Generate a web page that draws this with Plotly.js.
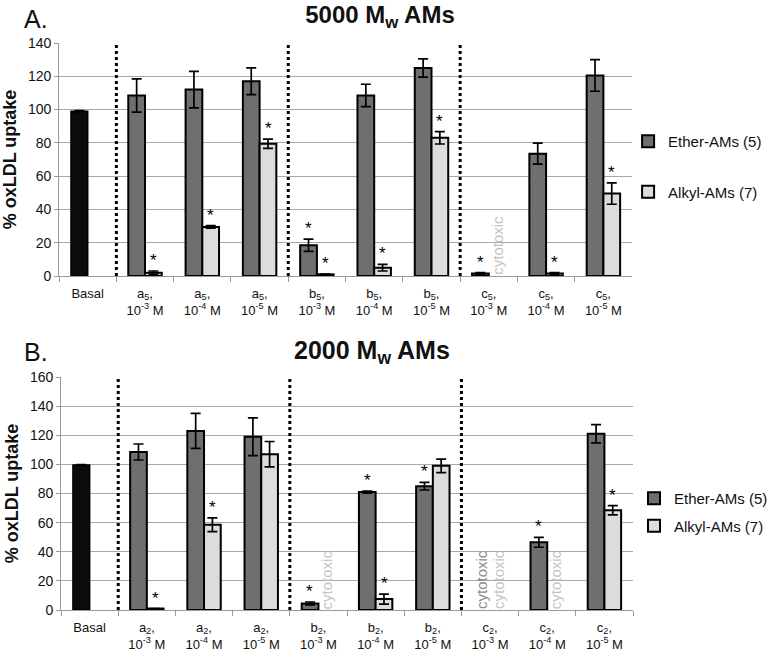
<!DOCTYPE html>
<html>
<head>
<meta charset="utf-8">
<script src="https://cdn.plot.ly/plotly-3.0.1.min.js"></script>
<style>html,body{margin:0;padding:0;background:#fff;}#chart{width:773px;height:656px;}</style>
</head>
<body>
<div id="chart"></div>
<script>
// ---------- Panel A: 5000 Mw AMs ----------
const categoriesA = ['Basal',
  'a<sub>5</sub>,<br>10<sup>-3</sup> M','a<sub>5</sub>,<br>10<sup>-4</sup> M','a<sub>5</sub>,<br>10<sup>-5</sup> M',
  'b<sub>5</sub>,<br>10<sup>-3</sup> M','b<sub>5</sub>,<br>10<sup>-4</sup> M','b<sub>5</sub>,<br>10<sup>-5</sup> M',
  'c<sub>5</sub>,<br>10<sup>-3</sup> M','c<sub>5</sub>,<br>10<sup>-4</sup> M','c<sub>5</sub>,<br>10<sup>-5</sup> M'];
const basalA = [99];
const basalErrA = [0.4];
const etherA = [null,108.5,112,117,18.5,108.5,125,1.5,73.5,120.5];
const etherErrA = [0,10,11,8,3.7,6.7,5.5,0.5,6.3,9.5];
const alkylA = [null,2,29.5,79.5,1,5,83,null,1.5,49.5];
const alkylErrA = [0,1,0.8,2.8,0.2,2,3.7,0,0.5,6.4];
const etherSigA = [0,0,0,0,1,0,0,1,0,0];
const alkylSigA = [0,1,1,1,1,1,1,0,1,1];
const etherCytoA = [0,0,0,0,0,0,0,0,0,0];
const alkylCytoA = [0,0,0,0,0,0,0,1,0,0];

// ---------- Panel B: 2000 Mw AMs ----------
const categoriesB = ['Basal',
  'a<sub>2</sub>,<br>10<sup>-3</sup> M','a<sub>2</sub>,<br>10<sup>-4</sup> M','a<sub>2</sub>,<br>10<sup>-5</sup> M',
  'b<sub>2</sub>,<br>10<sup>-3</sup> M','b<sub>2</sub>,<br>10<sup>-4</sup> M','b<sub>2</sub>,<br>10<sup>-5</sup> M',
  'c<sub>2</sub>,<br>10<sup>-3</sup> M','c<sub>2</sub>,<br>10<sup>-4</sup> M','c<sub>2</sub>,<br>10<sup>-5</sup> M'];
const basalB = [99.5];
const basalErrB = [0.4];
const etherB = [null,108.5,123,119,4.5,81,85,null,46.5,121];
const etherErrB = [0,5.5,12,13,1,0.7,2.6,0,3.4,6.3];
const alkylB = [null,1,58.5,107,null,7.5,99,null,null,68.5];
const alkylErrB = [0,0,4.7,8.7,0,3.4,4.6,0,0,3.2];
const etherSigB = [0,0,0,0,1,1,1,0,1,0];
const alkylSigB = [0,1,1,0,0,1,0,0,0,1];
const etherCytoB = [0,0,0,0,0,0,0,1,0,0];
const alkylCytoB = [0,0,0,0,1,0,0,1,1,0];

const seriesNames = ['Ether-AMs (5)','Alkyl-AMs (7)'];
const groupDividers = [0.5,3.5,6.5];

const FONT = 'Liberation Sans, Arial, sans-serif';
const C_BASAL = '#0b0b0b', C_ETHER = '#6f6f6f', C_ALKYL = '#dcdcdc';
const W = 773, H = 656;
const px = v => v / W;
const py = v => 1 - v / H;

function errObj(arr){
  return {type:'data', array:arr, visible:true, color:'#000', thickness:1.7, width:5};
}

function panelTraces(cats, basal, basalErr, ether, etherErr, alkyl, alkylErr, xa, ya, legend){
  return [
    {type:'bar', name:'Basal', x:[cats[0]], y:basal, xaxis:xa, yaxis:ya, offsetgroup:'e',
     marker:{color:C_BASAL, line:{color:'#000', width:1.5}}, error_y:errObj(basalErr),
     showlegend:false, legend:legend},
    {type:'bar', name:seriesNames[0], x:cats, y:ether, xaxis:xa, yaxis:ya, offsetgroup:'e',
     marker:{color:C_ETHER, line:{color:'#000', width:2}}, error_y:errObj(etherErr),
     legend:legend, legendgroup:'e'+legend},
    {type:'bar', name:seriesNames[1], x:cats, y:alkyl, xaxis:xa, yaxis:ya, offsetgroup:'a',
     marker:{color:C_ALKYL, line:{color:'#000', width:2}}, error_y:errObj(alkylErr),
     legend:legend, legendgroup:'a'+legend}
  ];
}

const data = [].concat(
  panelTraces(categoriesA, basalA, basalErrA, etherA, etherErrA, alkylA, alkylErrA, 'x', 'y', 'legend'),
  panelTraces(categoriesB, basalB, basalErrB, etherB, etherErrB, alkylB, alkylErrB, 'x2', 'y2', 'legend2')
);

const annotations = [];
const SHIFT = 8.5;
function addMarks(cats, vals, errs, sig, cyto, xr, yr, dx, cytoColor){
  cats.forEach((c,i)=>{
    if (sig[i]) {
      annotations.push({x:c, y:(vals[i]||0)+(errs[i]||0), xref:xr, yref:yr, xshift:dx,
        text:'*', showarrow:false, yanchor:'bottom', borderpad:0,
        font:{family:FONT, size:17, color:'#000'}});
    }
    if (cyto[i]) {
      annotations.push({x:c, y:0, xref:xr, yref:yr, xshift:dx, text:'cytotoxic', textangle:-90,
        showarrow:false, yanchor:'bottom', xanchor:'center', borderpad:0,
        font:{family:FONT, size:15, color:cytoColor}});
    }
  });
}
addMarks(categoriesA, etherA, etherErrA, etherSigA, etherCytoA, 'x', 'y', -SHIFT, '#8a8a8a');
addMarks(categoriesA, alkylA, alkylErrA, alkylSigA, alkylCytoA, 'x', 'y', SHIFT, '#c4c4c4');
addMarks(categoriesB, etherB, etherErrB, etherSigB, etherCytoB, 'x2', 'y2', -SHIFT, '#8a8a8a');
addMarks(categoriesB, alkylB, alkylErrB, alkylSigB, alkylCytoB, 'x2', 'y2', SHIFT, '#c4c4c4');

annotations.push({text:'A.', x:px(22), y:py(19), xref:'paper', yref:'paper', xanchor:'left', yanchor:'middle',
  showarrow:false, font:{family:FONT, size:25, color:'#111'}});
annotations.push({text:'B.', x:px(22), y:py(352), xref:'paper', yref:'paper', xanchor:'left', yanchor:'middle',
  showarrow:false, font:{family:FONT, size:25, color:'#111'}});
annotations.push({text:'<b>2000 M<sub>w</sub> AMs</b>', x:px(378), y:py(352), xref:'paper', yref:'paper',
  xanchor:'center', yanchor:'middle', showarrow:false, font:{family:FONT, size:25, color:'#111'}});

const shapes = [];
groupDividers.forEach(d=>{
  shapes.push({type:'line', xref:'x', yref:'y', x0:d, x1:d, y0:0, y1:140, line:{color:'#000', width:3, dash:'dot'}});
  shapes.push({type:'line', xref:'x2', yref:'y2', x0:d, x1:d, y0:0, y1:160, line:{color:'#000', width:3, dash:'dot'}});
});

const xCommon = {type:'category', showgrid:false, showline:true, linecolor:'#9a9a9a', linewidth:1,
  ticks:'outside', tickson:'boundaries', ticklen:5, tickcolor:'#9a9a9a', ticklabelstandoff:5,
  tickfont:{family:FONT, size:13, color:'#111'}, fixedrange:true};
const yCommon = {showgrid:true, gridcolor:'#a8a8a8', gridwidth:1, showline:true, linecolor:'#9a9a9a',
  ticks:'outside', ticklen:4, tickcolor:'#9a9a9a', dtick:20, zeroline:false,
  tickfont:{family:FONT, size:14, color:'#111'},
  title:{text:'<b>% oxLDL uptake</b>', font:{family:FONT, size:18, color:'#111'}, standoff:6}};

const layout = {
  width:W, height:H, margin:{l:0, r:0, t:0, b:0},
  paper_bgcolor:'#fff', plot_bgcolor:'#fff',
  barmode:'group', bargap:0.416, bargroupgap:0,
  font:{family:FONT, color:'#111'},
  title:{text:'<b>5000 M<sub>w</sub> AMs</b>', x:px(380), xanchor:'center', y:py(15), yanchor:'middle',
    font:{family:FONT, size:24, color:'#111'}},
  xaxis: Object.assign({}, xCommon, {domain:[px(60), px(642)], anchor:'y', categoryarray:categoriesA, categoryorder:'array'}),
  yaxis: Object.assign({}, yCommon, {domain:[py(276), py(43)], anchor:'x', range:[0,140]}),
  xaxis2: Object.assign({}, xCommon, {domain:[px(62), px(643)], anchor:'y2', categoryarray:categoriesB, categoryorder:'array'}),
  yaxis2: Object.assign({}, yCommon, {domain:[py(610), py(377)], anchor:'x2', range:[0,160]}),
  legend:{x:px(638), xanchor:'left', y:py(125), yanchor:'top', traceorder:'grouped', tracegroupgap:28,
    font:{family:FONT, size:15, color:'#111'}, bgcolor:'rgba(0,0,0,0)'},
  legend2:{x:px(644), xanchor:'left', y:py(482), yanchor:'top', traceorder:'grouped', tracegroupgap:5,
    font:{family:FONT, size:15, color:'#111'}, bgcolor:'rgba(0,0,0,0)'},
  annotations:annotations, shapes:shapes, showlegend:true
};

Plotly.newPlot('chart', data, layout, {displayModeBar:false, staticPlot:true});
</script>
</body>
</html>
